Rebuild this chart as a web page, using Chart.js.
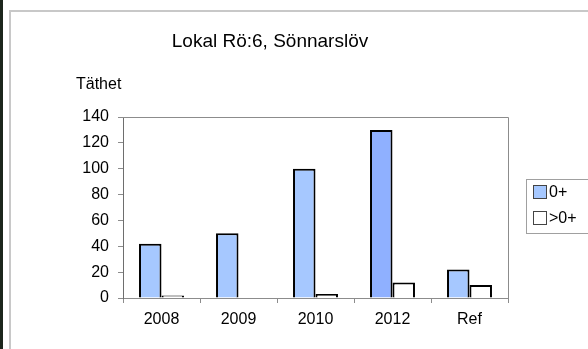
<!DOCTYPE html>
<html>
<head>
<meta charset="utf-8">
<script src="https://cdn.jsdelivr.net/npm/chart.js@4"></script>
<style>
  html, body { margin: 0; padding: 0; background: #fff; }
  #wrap { position: relative; width: 588px; height: 349px; }
</style>
</head>
<body>
<div id="wrap"><canvas id="chart" width="588" height="349"></canvas></div>
<script>
const categories = ["2008", "2009", "2010", "2012", "Ref"];
const seriesNames = ["0+", ">0+"];
const age0 = [42, 50, 100, 130, 22];
const older = [2, 0, 3, 12, 10];
const yTicks = [0, 20, 40, 60, 80, 100, 120, 140];

const FONT = "'Liberation Sans', Arial, sans-serif";
const blue = "#a6c8ff";
const blueDark = "#8fb0ff";

// page frame, title, y label, plot border and the boxed legend
const decorations = {
  id: "decorations",
  beforeDraw(chart) {
    const ctx = chart.ctx;
    ctx.save();
    ctx.fillStyle = "#fff";
    ctx.fillRect(0, 0, chart.width, chart.height);
    ctx.fillStyle = "#1c261c";
    ctx.fillRect(0, 0, 3, chart.height);
    ctx.strokeStyle = "#c8c8c8";
    ctx.lineWidth = 2;
    ctx.beginPath();
    ctx.moveTo(10, chart.height);
    ctx.lineTo(10, 11);
    ctx.lineTo(chart.width, 11);
    ctx.stroke();
    ctx.restore();
  },
  afterDraw(chart) {
    const ctx = chart.ctx;
    const a = chart.chartArea;
    ctx.save();
    ctx.fillStyle = "#000";
    ctx.textBaseline = "middle";
    ctx.textAlign = "center";
    ctx.font = "19px " + FONT;
    ctx.fillText("Lokal Rö:6, Sönnarslöv", 270, 42);
    ctx.textAlign = "left";
    ctx.font = "16px " + FONT;
    ctx.fillText("Täthet", 76, 85);

    // top and right edge of plot area
    ctx.strokeStyle = "#8c8c8c";
    ctx.lineWidth = 1;
    ctx.beginPath();
    ctx.moveTo(a.left, a.top + 0.5);
    ctx.lineTo(a.right + 0.5, a.top + 0.5);
    ctx.lineTo(a.right + 0.5, a.bottom);
    ctx.stroke();

    // legend box
    ctx.strokeStyle = "#a0a0a0";
    ctx.strokeRect(526.5, 179.5, 70, 54);
    chart.data.datasets.forEach((ds, i) => {
      const y = 185 + i * 26;
      ctx.fillStyle = i === 0 ? blue : "#fff";
      ctx.fillRect(533, y, 14, 14);
      ctx.strokeStyle = "#444";
      ctx.strokeRect(533.5, y + 0.5, 13, 13);
      ctx.fillStyle = "#000";
      ctx.fillText(ds.label, 549, y + 8);
    });
    ctx.restore();
  }
};

new Chart(document.getElementById("chart"), {
  type: "bar",
  data: {
    labels: categories,
    datasets: [
      {
        label: seriesNames[0],
        data: age0,
        backgroundColor: categories.map((c) => (c === "2012" ? blueDark : blue)),
        borderColor: "#000",
        borderWidth: 2,
      },
      {
        label: seriesNames[1],
        data: older,
        backgroundColor: "#fff",
        borderColor: "#000",
        borderWidth: 2,
      },
    ],
  },
  options: {
    responsive: false,
    animation: false,
    layout: { padding: { left: 10, top: 117, right: 80, bottom: 11 } },
    datasets: { bar: { barPercentage: 1, categoryPercentage: 0.584 } },
    plugins: {
      legend: { display: false },
      title: { display: false },
      tooltip: { enabled: false },
    },
    scales: {
      x: {
        offset: true,
        grid: { offset: true, drawOnChartArea: false, tickLength: 5, color: "#8c8c8c" },
        border: { color: "#8c8c8c" },
        ticks: { color: "#000", font: { family: FONT, size: 16 }, padding: 7 },
        afterFit(s) { s.height = 40; },
      },
      y: {
        min: 0,
        max: yTicks[yTicks.length - 1],
        afterBuildTicks(s) { s.ticks = yTicks.map((v) => ({ value: v })); },
        grid: { drawOnChartArea: false, tickLength: 5, color: "#8c8c8c" },
        border: { color: "#6e6e6e" },
        ticks: { color: "#000", font: { family: FONT, size: 16 }, padding: 9 },
        afterFit(s) { s.width = 113; },
      },
    },
  },
  plugins: [decorations],
});
</script>
</body>
</html>
